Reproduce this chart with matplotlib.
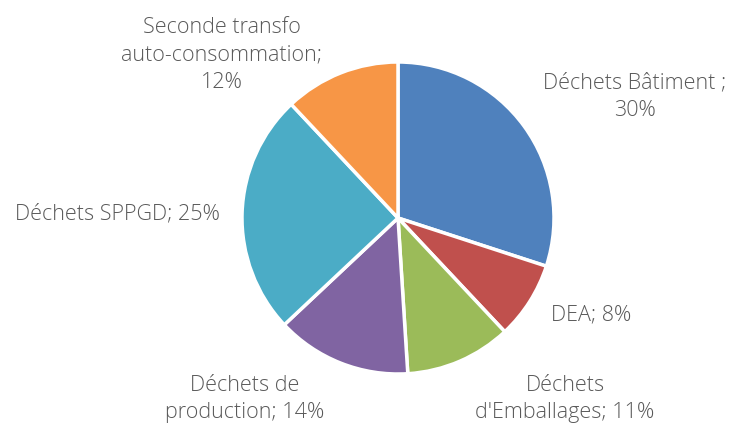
import matplotlib.pyplot as plt

labels = ["Déchets Bâtiment ;\n30%", "DEA; 8%", "Déchets\nd'Emballages; 11%",
          "Déchets de\nproduction; 14%", "Déchets SPPGD; 25%",
          "Seconde transfo\nauto-consommation;\n12%"]
values = [30, 8, 11, 14, 25, 12]
colors = ["#4F81BD", "#C0504D", "#9BBB59", "#8064A2", "#4BACC6", "#F79646"]

# label positions in pixel space (y measured from top)
label_pos = [(635, 97), (591, 315), (565, 399), (245, 399), (117, 214), (222, 55)]

fig = plt.figure(figsize=(7.33, 4.23), dpi=100)
ax = fig.add_axes([0, 0, 1, 1])

wedges, texts = ax.pie(values, colors=colors, startangle=90, counterclock=False,
                       center=(398, 423 - 218), radius=156,
                       wedgeprops=dict(edgecolor="white", linewidth=2.5),
                       frame=True)
ax.set_xlim(0, 733)
ax.set_ylim(0, 423)
ax.axis("off")

for lab, (x, y) in zip(labels, label_pos):
    ax.text(x, 423 - y, lab, ha="center", va="center", fontsize=15.5,
            family="Open Sans", fontweight="light", color="#595959",
            linespacing=1.42)

fig.savefig("out.png", dpi=100)
